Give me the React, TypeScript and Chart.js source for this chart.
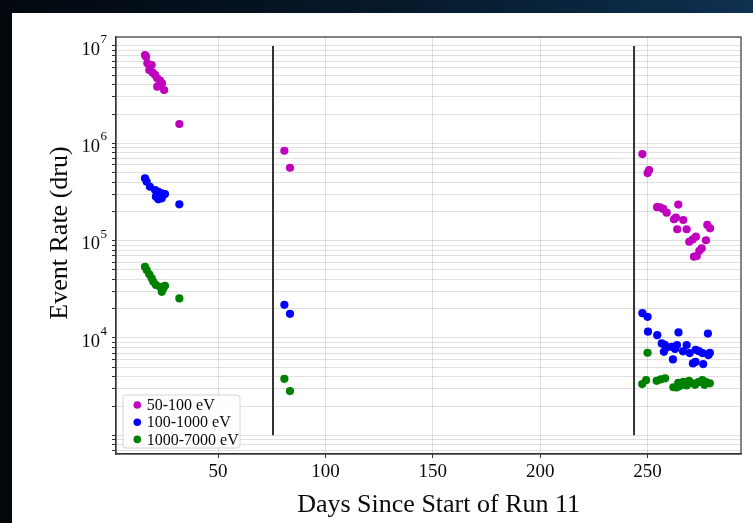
import React, { useEffect, useRef } from 'react';
import { Chart, registerables } from 'chart.js';

Chart.register(...registerables);

// Energy bands
const SERIES_LABELS = ['50-100 eV', '100-1000 eV', '1000-7000 eV'];
const SERIES_COLORS = ['#bf00bf', '#0000ff', '#008000'];

// 50-100 eV
const lowDays = [16.0, 16.5, 17.1, 18.0, 19.1, 19.6, 20.7, 21.7, 23.0, 23.9, 21.7, 24.9, 32.0,
  80.9, 83.5,
  247.6, 250.0, 250.7, 254.4, 255.8, 257.3, 258.9, 264.3, 262.3, 263.2, 266.6, 263.8, 268.2,
  269.4, 271.0, 272.5, 277.2, 277.8, 279.1, 275.2, 274.1, 272.9, 271.6];
const lowRate = [8.08e6, 7.76e6, 6.64e6, 5.66e6, 6.38e6, 5.32e6, 5.04e6, 4.66e6, 4.40e6, 4.14e6, 3.82e6, 3.53e6, 1.58e6,
  8.39e5, 5.61e5,
  7.76e5, 4.95e5, 5.32e5, 2.21e5, 2.20e5, 2.12e5, 1.94e5, 2.35e5, 1.66e5, 1.73e5, 1.63e5, 1.31e5, 1.31e5,
  9.75e4, 1.03e5, 1.10e5, 1.01e5, 1.45e5, 1.34e5, 8.34e4, 7.87e4, 6.95e4, 6.84e4];

// 100-1000 eV
const midDays = [16.0, 16.8, 18.3, 20.7, 22.2, 23.8, 25.3, 22.2, 23.8, 21.1, 32.0,
  80.9, 83.5,
  247.6, 250.0, 250.2, 254.5, 264.4, 278.1, 256.6, 258.0, 258.9, 257.6, 261.2, 263.7, 262.8,
  266.5, 268.2, 269.6, 272.4, 273.9, 275.6, 279.0, 261.8, 271.1, 272.3, 275.9, 278.3];
const midRate = [4.37e5, 4.03e5, 3.58e5, 3.31e5, 3.18e5, 3.06e5, 3.01e5, 2.66e5, 2.72e5, 2.83e5, 2.36e5,
  2.19e4, 1.77e4,
  1.80e4, 1.65e4, 1.16e4, 1.07e4, 1.14e4, 1.11e4, 8.80e3, 8.51e3, 7.97e3, 7.21e3, 8.12e3, 8.45e3, 7.72e3,
  7.30e3, 8.45e3, 7.00e3, 7.56e3, 7.33e3, 7.00e3, 7.05e3, 6.03e3, 5.48e3, 5.68e3, 5.40e3, 6.67e3];

// 1000-7000 eV
const highDays = [16.0, 16.8, 18.0, 19.1, 19.9, 21.1, 23.0, 24.5, 25.3, 23.8, 32.0,
  80.9, 83.5,
  247.5, 249.3, 250.0, 254.2, 256.1, 258.2, 262.0, 263.5, 265.0, 264.3, 266.6, 268.2, 269.3,
  270.5, 272.1, 273.6, 275.5, 277.0, 279.0, 276.5];
const highRate = [5.39e4, 4.99e4, 4.51e4, 4.10e4, 3.78e4, 3.50e4, 3.36e4, 3.23e4, 3.44e4, 2.98e4, 2.55e4,
  3.81e3, 2.85e3,
  3.36e3, 3.69e3, 7.05e3, 3.63e3, 3.75e3, 3.85e3, 3.12e3, 3.10e3, 3.21e3, 3.47e3, 3.55e3, 3.25e3, 3.62e3,
  3.45e3, 3.30e3, 3.52e3, 3.69e3, 3.55e3, 3.42e3, 3.30e3];

const SERIES_DAYS = [lowDays, midDays, highDays];
const SERIES_RATES = [lowRate, midRate, highRate];

// Vertical markers between run segments and their extent
const BREAK_DAYS = [75.6, 243.7];
const BREAK_SPAN = [1e3, 1e7];

// Axes
const X_TICKS = [50, 100, 150, 200, 250];
const X_RANGE = [2.5, 293.5];
const Y_RANGE = [643, 1.237e7];
const Y_LABEL_EXPONENTS = [4, 5, 6, 7];
const X_TITLE = 'Days Since Start of Run 11';
const Y_TITLE = 'Event Rate (dru)';

const SERIF = '"Liberation Serif", "DejaVu Serif", serif';
const GRID = 'rgba(0,0,0,0.12)';
const INK = '#0a0a0a';
const MARKER_R = 4.1;

export default function App() {
  const ref = useRef<HTMLCanvasElement>(null);

  useEffect(() => {
    const canvas = ref.current;
    if (!canvas) return;

    const scatterSets = SERIES_LABELS.map((label, i) => ({
      label,
      data: SERIES_DAYS[i].map((d, k) => ({ x: d, y: SERIES_RATES[i][k] })),
      backgroundColor: SERIES_COLORS[i],
      borderColor: SERIES_COLORS[i],
      borderWidth: 0,
      pointRadius: MARKER_R,
      pointHoverRadius: MARKER_R,
      showLine: false,
      order: 3 - i,
    }));

    const breakSets = BREAK_DAYS.map((d) => ({
      label: '',
      data: BREAK_SPAN.map((v) => ({ x: d, y: v })),
      borderColor: '#333',
      borderWidth: 2,
      pointRadius: 0,
      showLine: true,
      order: 0,
    }));

    const decorations = {
      id: 'decorations',
      afterDraw(chart: any) {
        const { ctx, chartArea: a, scales } = chart;
        ctx.save();
        // plot frame
        ctx.strokeStyle = '#333';
        ctx.lineWidth = 1.2;
        ctx.strokeRect(a.left, a.top, a.right - a.left, a.bottom - a.top);

        // decade labels on the y axis
        const y = scales.y;
        ctx.fillStyle = INK;
        ctx.textBaseline = 'alphabetic';
        for (const e of Y_LABEL_EXPONENTS) {
          const py = y.getPixelForValue(Math.pow(10, e));
          ctx.font = `18.5px ${SERIF}`;
          ctx.textAlign = 'right';
          ctx.fillText('10', a.left - 16, py + 8.7);
          ctx.font = `13px ${SERIF}`;
          ctx.textAlign = 'left';
          ctx.fillText(String(e), a.left - 15.5, py - 3);
        }

        // axis titles
        ctx.font = `26px ${SERIF}`;
        ctx.textAlign = 'center';
        ctx.fillText(X_TITLE, 426.6, 499);
        ctx.save();
        ctx.translate(54.5, 220);
        ctx.rotate(-Math.PI / 2);
        ctx.fillText(Y_TITLE, 0, 0);
        ctx.restore();

        // legend in the lower-left corner of the plot
        const lx = a.left + 7;
        const ly = a.bottom - 59;
        const lw = 117;
        const lh = 53;
        ctx.beginPath();
        ctx.roundRect(lx, ly, lw, lh, 3);
        ctx.fillStyle = 'rgba(255,255,255,0.85)';
        ctx.fill();
        ctx.strokeStyle = '#d4d4d4';
        ctx.lineWidth = 1;
        ctx.stroke();
        ctx.font = `16px ${SERIF}`;
        ctx.textAlign = 'left';
        ctx.textBaseline = 'middle';
        SERIES_LABELS.forEach((label, i) => {
          const cy = ly + 10 + i * 17.2;
          ctx.beginPath();
          ctx.arc(lx + 14.3, cy, 3.8, 0, Math.PI * 2);
          ctx.fillStyle = SERIES_COLORS[i];
          ctx.fill();
          ctx.fillStyle = INK;
          ctx.fillText(label, lx + 23.7, cy + 1);
        });
        ctx.restore();
      },
    };

    const chart = new Chart(canvas, {
      type: 'scatter',
      data: { datasets: [...scatterSets, ...breakSets] as any },
      options: {
        animation: false,
        responsive: false,
        devicePixelRatio: 1,
        layout: { padding: { left: 0, right: 12, top: 24, bottom: 0 } },
        plugins: { legend: { display: false }, tooltip: { enabled: false } },
        scales: {
          x: {
            type: 'linear',
            min: X_RANGE[0],
            max: X_RANGE[1],
            afterBuildTicks: (s: any) => {
              s.ticks = X_TICKS.map((v) => ({ value: v }));
            },
            afterFit: (s: any) => {
              s.height = 69;
            },
            ticks: {
              color: INK,
              font: { family: SERIF, size: 19 },
              padding: 3,
              autoSkip: false,
              maxRotation: 0,
            },
            grid: { color: GRID, lineWidth: 1, tickLength: 4, tickColor: '#333' },
            border: { color: '#333', width: 1.2 },
          },
          y: {
            type: 'logarithmic',
            min: Y_RANGE[0],
            max: Y_RANGE[1],
            afterBuildTicks: (s: any) => {
              const t: any[] = [];
              for (let e = 2; e <= 7; e++) {
                for (let m = 1; m <= 9; m++) {
                  const v = m * Math.pow(10, e);
                  if (v >= Y_RANGE[0] && v <= Y_RANGE[1]) t.push({ value: v, major: m === 1 });
                }
              }
              s.ticks = t;
            },
            afterFit: (s: any) => {
              s.width = 104;
            },
            ticks: { display: false, autoSkip: false },
            grid: {
              color: GRID,
              lineWidth: 1,
              tickLength: 4,
              tickColor: '#333',
            },
            border: { color: '#333', width: 1.2 },
          },
        },
      },
      plugins: [decorations],
    });

    return () => chart.destroy();
  }, []);

  return (
    <div
      style={{
        position: 'fixed',
        left: 0,
        top: 0,
        width: 753,
        height: 523,
        overflow: 'hidden',
        background: 'linear-gradient(90deg, #03080f 0%, #061a2c 55%, #0d3150 100%)',
      }}
    >
      <div
        style={{
          position: 'absolute',
          left: 12,
          top: 13,
          width: 741,
          height: 510,
          background: '#ffffff',
        }}
      >
        <canvas ref={ref} width={741} height={510} style={{ display: 'block', width: 741, height: 510 }} />
      </div>
    </div>
  );
}
